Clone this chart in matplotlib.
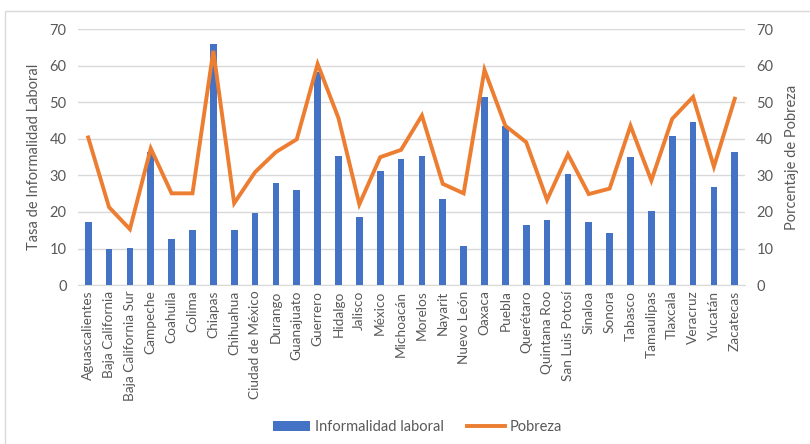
import matplotlib
matplotlib.use("Agg")
import matplotlib.pyplot as plt
from matplotlib.patches import Rectangle
from matplotlib.lines import Line2D
from matplotlib.patches import Patch

estados = [
    "Aguascalientes", "Baja California", "Baja California Sur", "Campeche",
    "Coahuila", "Colima", "Chiapas", "Chihuahua", "Ciudad de México",
    "Durango", "Guanajuato", "Guerrero", "Hidalgo", "Jalisco", "México",
    "Michoacán", "Morelos", "Nayarit", "Nuevo León", "Oaxaca", "Puebla",
    "Querétaro", "Quintana Roo", "San Luis Potosí", "Sinaloa", "Sonora",
    "Tabasco", "Tamaulipas", "Tlaxcala", "Veracruz", "Yucatán", "Zacatecas",
]

informalidad = [
    17.2, 10.0, 10.2, 36.5, 12.5, 15.1, 66.0, 15.1, 19.8, 28.0, 26.0,
    58.4, 35.3, 18.6, 31.3, 34.5, 35.3, 23.6, 10.7, 51.6, 43.4, 16.4,
    17.8, 30.5, 17.2, 14.2, 35.0, 20.3, 40.9, 44.5, 26.7, 36.4,
]

pobreza = [
    40.4, 21.3, 15.3, 37.4, 25.1, 25.1, 64.1, 22.4, 30.9, 36.4, 39.9,
    60.5, 45.7, 22.1, 35.0, 37.0, 46.4, 27.7, 25.1, 58.9, 43.6, 39.1,
    23.3, 35.8, 24.9, 26.4, 43.6, 28.6, 45.5, 51.5, 32.4, 51.0,
]

yticks = [0, 10, 20, 30, 40, 50, 60, 70]

BLUE = "#4472C4"
ORANGE = "#ED7D31"
TEXT = "#595959"
GRID = "#D9D9D9"

plt.rcParams["font.family"] = ["Lato", "DejaVu Sans"]

fig = plt.figure(figsize=(8.10, 4.44), dpi=100)
ax = fig.add_axes([0.096, 0.358, 0.824, 0.576])
ax2 = ax.twinx()

x = list(range(len(estados)))
ax.bar(x, informalidad, width=0.32, color=BLUE, zorder=3)
ax2.plot(x, pobreza, color=ORANGE, linewidth=2.8, solid_joinstyle="miter", zorder=4)

for a in (ax, ax2):
    a.set_ylim(0, 70)
    a.set_yticks(yticks)
    a.tick_params(axis="y", length=0, colors=TEXT, labelsize=10.5, pad=8)
    for s in a.spines.values():
        s.set_visible(False)

ax.set_xlim(-0.5, len(estados) - 0.5)
ax.set_xticks(x)
ax.set_xticklabels(estados, rotation=90, fontsize=9.8, color=TEXT)
ax.tick_params(axis="x", length=0, pad=4)
ax.grid(axis="y", color=GRID, linewidth=1, zorder=0)
ax.spines["bottom"].set_visible(True)
ax.spines["bottom"].set_color(GRID)

ax.set_ylabel("Tasa de Informalidad Laboral", color=TEXT, fontsize=10.5, labelpad=6)
ax2.set_ylabel("Porcentaje de Pobreza", color=TEXT, fontsize=10.5, labelpad=8)

handles = [
    Patch(facecolor=BLUE, edgecolor="none"),
    Line2D([0], [0], color=ORANGE, linewidth=2.8),
]
fig.legend(handles, ["Informalidad laboral", "Pobreza"], loc="center",
           bbox_to_anchor=(0.515, 0.038), ncol=2, frameon=False,
           fontsize=10.5, labelcolor=TEXT, handlelength=2.6, handletextpad=0.3,
           columnspacing=1.6)

fig.patches.append(Rectangle((5 / 810, -0.01), 1.0, 1 - 11 / 444 + 0.01,
                             transform=fig.transFigure, fill=False,
                             edgecolor=GRID, linewidth=1))

fig.savefig("out.png", dpi=100)
